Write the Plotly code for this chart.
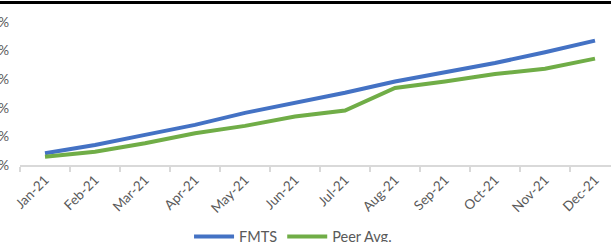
import plotly.graph_objects as go

months = ["Jan-21", "Feb-21", "Mar-21", "Apr-21", "May-21", "Jun-21",
          "Jul-21", "Aug-21", "Sep-21", "Oct-21", "Nov-21", "Dec-21"]
fmts = [2.05, 3.51, 5.26, 7.02, 9.12, 10.79, 12.63, 14.61, 16.19, 17.84, 19.70, 21.75]
peer = [1.46, 2.33, 3.81, 5.56, 6.84, 8.47, 9.53, 13.46, 14.61, 15.91, 16.84, 18.60]
ytick_vals = [0, 5, 10, 15, 20, 25]
ytick_text = ["0%", "5%", "10%", "15%", "20%", "25%"]

fig = go.Figure()
fig.add_trace(go.Scatter(x=months, y=fmts, mode="lines", name="FMTS",
                         line=dict(color="#4472C4", width=4)))
fig.add_trace(go.Scatter(x=months, y=peer, mode="lines", name="Peer Avg.",
                         line=dict(color="#70AD47", width=4)))

W, H = 611, 242
ml, mt, mb = 20, 22, 77
plot_w = W - ml
plot_h = H - mt - mb

fig.update_layout(
    width=W, height=H,
    margin=dict(l=ml, r=0, t=mt, b=mb, pad=0, autoexpand=False),
    paper_bgcolor="white", plot_bgcolor="white",
    font=dict(family="Lato, Liberation Sans, sans-serif", color="#595959", size=13),
    showlegend=True,
    legend=dict(orientation="h", x=0.462, xanchor="center", y=-0.5, yanchor="middle",
                font=dict(size=14.5, color="#595959"), itemwidth=40, tracegroupgap=0),
    xaxis=dict(type="category", range=[-0.5, -0.5 + plot_w / 50.0], automargin=False,
               showline=True, linecolor="#D9D9D9", linewidth=1.5,
               ticks="outside", ticklen=5, tickcolor="#D9D9D9", tickwidth=1.5,
               tickson="boundaries", tickangle=-45, showgrid=False,
               tickfont=dict(size=13.5, color="#595959")),
    yaxis=dict(range=[0, 25], tickvals=ytick_vals, ticktext=ytick_text, automargin=False,
               showgrid=False, zeroline=False, showline=False,
               ticks="", ticklabelstandoff=10,
               tickfont=dict(size=13.5, color="#595959")),
)

fig.add_shape(type="rect", xref="paper", yref="paper", layer="above",
              x0=-ml / plot_w - 0.01, x1=1.01,
              y0=1 + (mt - 4) / plot_h, y1=1 + (mt - 1) / plot_h,
              fillcolor="black", line=dict(width=0))

fig.write_html("out.html", config={"displayModeBar": False},
               post_script="document.body.style.margin='0';document.body.style.overflow='hidden';")
